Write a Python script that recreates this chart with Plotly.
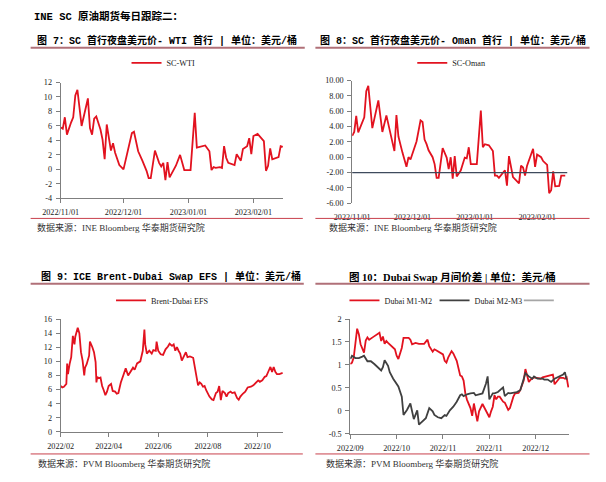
import plotly.graph_objects as go

W, H = 606, 482

# ---------------- DATA ----------------
# Fig 7: SC - WTI
wti_dates = ["2022-11-01","2022-11-02","2022-11-03","2022-11-04","2022-11-06","2022-11-07","2022-11-08","2022-11-09",
             "2022-11-11","2022-11-12","2022-11-14","2022-11-15","2022-11-16","2022-11-17","2022-11-18","2022-11-20",
             "2022-11-21","2022-11-22","2022-11-23","2022-11-25","2022-11-26","2022-11-27","2022-11-29","2022-12-01",
             "2022-12-03","2022-12-05","2022-12-06","2022-12-08","2022-12-10","2022-12-12","2022-12-13","2022-12-14",
             "2022-12-16","2022-12-18","2022-12-19","2022-12-20","2022-12-21","2022-12-22","2022-12-23","2022-12-26",
             "2022-12-28","2022-12-30","2023-01-02","2023-01-04","2023-01-05","2023-01-07","2023-01-09","2023-01-11",
             "2023-01-12","2023-01-13","2023-01-14","2023-01-16","2023-01-17","2023-01-18","2023-01-19","2023-01-20",
             "2023-01-23","2023-01-24","2023-01-26","2023-01-27","2023-01-29","2023-01-30","2023-01-31","2023-02-01",
             "2023-02-03","2023-02-06","2023-02-07","2023-02-08","2023-02-09","2023-02-10","2023-02-12","2023-02-13",
             "2023-02-14","2023-02-15"]
wti_vals = [5.8,5.6,7.2,4.8,6.5,7.2,10.2,11.0,
            6.0,7.2,9.8,5.7,4.8,7.0,7.3,5.5,
            4.1,1.4,6.2,2.6,3.6,2.3,0.6,0.0,
            2.3,5.0,5.2,2.5,1.2,-0.2,-1.2,-1.2,
            2.6,0.9,0.4,0.9,-1.5,1.0,-1.1,0.5,
            2.0,-0.1,-0.1,7.8,3.0,3.2,3.3,2.5,
            -0.1,0.3,0.2,0.3,0.2,3.2,1.6,0.9,
            0.6,2.1,1.2,2.8,3.2,4.3,2.1,4.6,
            4.9,3.9,-0.2,0.5,2.9,1.4,1.6,1.7,
            3.2,3.1]

# Fig 8: SC - Oman
oman_dates = ["2022-11-01","2022-11-02","2022-11-03","2022-11-04","2022-11-07","2022-11-08","2022-11-09","2022-11-11",
              "2022-11-14","2022-11-15","2022-11-16","2022-11-18","2022-11-20","2022-11-22","2022-11-23","2022-11-24",
              "2022-11-26","2022-11-28","2022-11-29","2022-11-30","2022-12-03","2022-12-05","2022-12-06","2022-12-07",
              "2022-12-08","2022-12-09","2022-12-11","2022-12-12","2022-12-13","2022-12-14","2022-12-16","2022-12-18",
              "2022-12-19","2022-12-20","2022-12-21","2022-12-22","2022-12-23","2022-12-25","2022-12-27","2022-12-28",
              "2022-12-29","2022-12-30","2023-01-02","2023-01-03","2023-01-04","2023-01-05","2023-01-06","2023-01-08",
              "2023-01-10","2023-01-11","2023-01-12","2023-01-13","2023-01-16","2023-01-17","2023-01-18","2023-01-20",
              "2023-01-23","2023-01-24","2023-01-25","2023-01-26","2023-01-27","2023-01-30","2023-01-31","2023-02-01",
              "2023-02-03","2023-02-04","2023-02-06","2023-02-07","2023-02-08","2023-02-09","2023-02-10","2023-02-12",
              "2023-02-13","2023-02-15"]
oman_vals = [2.8,3.3,5.4,3.25,5.2,8.6,9.3,3.8,
             7.4,5.4,3.3,5.45,3.3,0.8,5.5,2.7,
             0.6,-1.25,0.0,-0.3,2.05,4.8,4.6,2.3,
             1.7,0.9,0.0,-0.9,-2.7,-2.7,1.2,-0.05,
             -1.55,0.0,-2.8,0.15,-2.5,-1.75,-0.05,-0.15,
             1.3,-0.9,-0.9,2.4,6.1,1.3,1.7,1.55,
             0.8,-2.4,-2.4,-2.7,-1.7,-3.7,0.15,-2.6,
             -3.4,-1.1,-1.35,-2.4,-1.1,1.1,-1.25,0.35,
             0.0,-0.5,-1.0,-4.7,-4.3,-1.85,-3.8,-3.75,
             -2.4,-2.4]
oman_ref_level = -2.0

# Fig 9: Brent-Dubai EFS
efs_dates = ["2022-02-01","2022-02-03","2022-02-05","2022-02-08","2022-02-09","2022-02-10","2022-02-12","2022-02-14",
             "2022-02-16","2022-02-18","2022-02-19","2022-02-21","2022-02-22","2022-02-24","2022-02-26","2022-02-28",
             "2022-03-02","2022-03-03","2022-03-05","2022-03-08","2022-03-09","2022-03-12","2022-03-14","2022-03-16",
             "2022-03-17","2022-03-18","2022-03-20","2022-03-22","2022-03-24","2022-03-26","2022-03-28","2022-03-30",
             "2022-04-01","2022-04-04","2022-04-06","2022-04-09","2022-04-11","2022-04-13","2022-04-16","2022-04-19",
             "2022-04-22","2022-04-25","2022-04-28","2022-05-01","2022-05-03","2022-05-06","2022-05-10","2022-05-13",
             "2022-05-15","2022-05-16","2022-05-18","2022-05-21","2022-05-24","2022-05-26","2022-05-29","2022-05-30",
             "2022-06-01","2022-06-04","2022-06-07","2022-06-10","2022-06-13","2022-06-15","2022-06-18","2022-06-20",
             "2022-06-22","2022-06-24","2022-06-26","2022-06-28","2022-06-30","2022-07-02","2022-07-05","2022-07-07",
             "2022-07-10","2022-07-14","2022-07-16","2022-07-18","2022-07-20","2022-07-22","2022-07-24","2022-07-26",
             "2022-07-28","2022-07-30","2022-08-03","2022-08-06","2022-08-08","2022-08-11","2022-08-13","2022-08-15",
             "2022-08-17","2022-08-19","2022-08-22","2022-08-24","2022-08-26","2022-08-29","2022-08-31","2022-09-03",
             "2022-09-06","2022-09-08","2022-09-10","2022-09-13","2022-09-16","2022-09-19","2022-09-23","2022-09-26",
             "2022-09-29","2022-10-02","2022-10-04","2022-10-07","2022-10-10","2022-10-12","2022-10-15","2022-10-17",
             "2022-10-19","2022-10-21","2022-10-23","2022-10-25","2022-10-28","2022-10-31","2022-11-01"]
efs_vals = [6.5,6.3,6.4,6.8,9.7,8.2,9.6,10.6,
            13.6,12.4,13.5,14.5,14.75,14.0,11.3,10.1,
            8.0,9.1,9.6,10.8,12.8,12.0,11.3,9.9,
            7.0,7.8,7.6,7.7,6.5,5.9,5.2,5.7,
            6.5,6.8,5.8,5.7,5.4,5.5,7.0,8.0,
            9.0,8.0,8.6,9.1,8.8,9.7,10.0,11.5,
            14.5,12.4,11.1,11.5,11.1,11.6,11.5,12.8,
            11.5,11.0,10.9,11.7,12.1,12.5,12.2,12.4,
            11.5,12.0,11.5,11.1,10.1,10.6,11.3,10.6,
            10.7,10.5,9.0,7.8,6.6,7.0,6.8,6.4,
            6.5,5.9,5.0,4.6,4.5,5.5,5.7,6.5,
            4.5,5.8,5.5,5.0,5.5,5.7,5.5,5.6,
            4.8,4.55,5.0,5.4,5.7,6.3,6.4,6.6,
            7.0,7.3,7.1,7.3,7.8,7.9,8.7,9.2,
            8.5,9.2,8.5,8.2,8.2,8.35,8.35]

# Fig 10: Dubai Swap spreads
m12_dates = ["2022-09-09","2022-09-10","2022-09-11","2022-09-13","2022-09-14","2022-09-15","2022-09-17","2022-09-18",
             "2022-09-19","2022-09-20","2022-09-22","2022-09-24","2022-09-26","2022-09-27","2022-09-28","2022-09-29",
             "2022-09-30","2022-10-01","2022-10-03","2022-10-05","2022-10-06","2022-10-07","2022-10-09","2022-10-10",
             "2022-10-13","2022-10-14","2022-10-15","2022-10-17","2022-10-19","2022-10-22","2022-10-24","2022-10-25",
             "2022-10-27","2022-10-28","2022-10-29","2022-10-31","2022-11-02","2022-11-03","2022-11-04","2022-11-05",
             "2022-11-07","2022-11-08","2022-11-09","2022-11-10","2022-11-12","2022-11-13","2022-11-14","2022-11-15",
             "2022-11-16","2022-11-18","2022-11-19","2022-11-20","2022-11-22","2022-11-23","2022-11-25","2022-11-27",
             "2022-11-29","2022-11-30","2022-12-01","2022-12-02","2022-12-03","2022-12-04","2022-12-05","2022-12-07",
             "2022-12-08","2022-12-10","2022-12-11","2022-12-13","2022-12-14","2022-12-16","2022-12-17","2022-12-19",
             "2022-12-20","2022-12-22","2022-12-23","2022-12-25","2022-12-27","2022-12-29","2022-12-30","2023-01-01",
             "2023-01-03","2023-01-05","2023-01-06","2023-01-08","2023-01-09","2023-01-11","2023-01-12","2023-01-13",
             "2023-01-14"]
m12_vals = [1.02,1.05,1.16,1.79,1.67,1.45,1.27,1.53,
            1.60,1.55,1.60,1.65,1.70,1.52,1.62,1.46,
            1.52,1.48,1.41,1.34,1.20,1.13,1.37,1.59,
            1.59,1.55,1.45,1.48,1.46,1.46,1.55,1.41,
            1.29,1.34,1.32,1.27,1.23,1.09,1.05,1.16,
            1.30,1.25,1.16,1.09,0.77,0.75,0.66,0.38,
            0.24,0.06,-0.11,0.16,-0.23,-0.01,0.15,0.02,
            -0.14,-0.01,0.09,0.34,0.25,0.31,0.31,0.20,
            0.18,0.02,0.06,0.31,0.38,0.39,0.45,0.66,
            0.91,0.63,0.68,0.73,0.72,0.70,0.73,0.75,
            0.77,0.79,0.58,0.68,0.72,0.72,0.70,0.73,
            0.51]

m23_dates = ["2022-09-09","2022-09-10","2022-09-12","2022-09-14","2022-09-16","2022-09-17","2022-09-19","2022-09-21",
             "2022-09-23","2022-09-25","2022-09-27","2022-09-28","2022-09-29","2022-10-01","2022-10-02","2022-10-04",
             "2022-10-06","2022-10-07","2022-10-09","2022-10-10","2022-10-12","2022-10-13","2022-10-14","2022-10-16",
             "2022-10-17","2022-10-18","2022-10-19","2022-10-21","2022-10-23","2022-10-25","2022-10-27","2022-10-28",
             "2022-10-30","2022-11-01","2022-11-03","2022-11-04","2022-11-06","2022-11-08","2022-11-10","2022-11-12",
             "2022-11-13","2022-11-14","2022-11-16","2022-11-18","2022-11-20","2022-11-21","2022-11-23","2022-11-25",
             "2022-11-27","2022-11-28","2022-11-29","2022-12-01","2022-12-02","2022-12-04","2022-12-06","2022-12-07",
             "2022-12-08","2022-12-10","2022-12-11","2022-12-13","2022-12-15","2022-12-17","2022-12-18","2022-12-20",
             "2022-12-22","2022-12-24","2022-12-25","2022-12-27","2022-12-30","2022-12-31","2023-01-02","2023-01-04",
             "2023-01-06","2023-01-08","2023-01-09","2023-01-11","2023-01-12","2023-01-13"]
m23_vals = [1.13,1.20,1.15,1.15,1.18,1.20,1.08,1.08,
            1.02,0.95,0.88,0.95,1.10,0.98,0.84,0.70,
            0.58,0.53,0.31,-0.09,0.02,0.09,0.16,-0.18,
            -0.09,0.01,-0.30,-0.23,-0.16,0.06,-0.01,-0.09,
            -0.14,-0.16,-0.09,-0.11,0.01,0.09,0.20,0.34,
            0.36,0.32,0.36,0.38,0.39,0.34,0.36,0.38,
            0.59,0.75,0.25,0.38,0.38,0.41,0.48,0.51,
            0.32,0.39,0.38,0.39,0.41,0.45,0.58,0.82,
            0.75,0.70,0.75,0.70,0.70,0.68,0.68,0.63,
            0.70,0.73,0.75,0.79,0.84,0.68]

# tick labels
p1_yticks = [-4, -2, 0, 2, 4, 6, 8, 10, 12]
p1_ytext = ["-4", "-2", "0", "2", "4", "6", "8", "10", "12"]
p1_xticks = ["2022-11-01", "2022-12-01", "2023-01-01", "2023-02-01"]
p2_yticks = [-6, -4, -2, 0, 2, 4, 6, 8, 10]
p2_ytext = ["-6.00", "-4.00", "-2.00", "0.00", "2.00", "4.00", "6.00", "8.00", "10.00"]
p2_xticks = ["2022-11-01", "2022-12-01", "2023-01-01", "2023-02-01"]
p3_yticks = [0, 2, 4, 6, 8, 10, 12, 14, 16]
p3_ytext = ["0", "2", "4", "6", "8", "10", "12", "14", "16"]
p3_xticks = ["2022-02-01", "2022-04-01", "2022-06-01", "2022-08-01", "2022-10-01"]
p4_yticks = [-0.5, 0, 0.5, 1, 1.5, 2]
p4_ytext = ["-0.5", "0", "0.5", "1", "1.5", "2"]
p4_xticks = ["2022-09-09", "2022-10-06", "2022-11-02", "2022-11-29", "2022-12-26"]

# ---------------- STYLE ----------------
RED = "#E2121F"
DARK = "#404040"
GRAY = "#A6A6A6"
AX = "#7F7F7F"
SERIF = "Liberation Serif, Times New Roman, Noto Sans CJK SC"
TITLE = "Liberation Mono, Noto Sans CJK SC"
TITLE4 = "Liberation Serif, Noto Sans CJK SC"


def xdom(a, b):
    return [a / W, b / W]


def ydom(top, bottom):
    return [1 - bottom / H, 1 - top / H]


fig = go.Figure()

fig.add_trace(go.Scatter(x=wti_dates, y=wti_vals, mode="lines", name="SC-WTI",
                         line=dict(color=RED, width=1.8), xaxis="x", yaxis="y", legend="legend"))
fig.add_trace(go.Scatter(x=oman_dates, y=oman_vals, mode="lines", name="SC-Oman",
                         line=dict(color=RED, width=1.8), xaxis="x2", yaxis="y2", legend="legend2"))
fig.add_trace(go.Scatter(x=efs_dates, y=efs_vals, mode="lines", name="Brent-Dubai EFS",
                         line=dict(color=RED, width=1.8), xaxis="x3", yaxis="y3", legend="legend3"))
fig.add_trace(go.Scatter(x=m12_dates, y=m12_vals, mode="lines", name="Dubai M1-M2",
                         line=dict(color=RED, width=1.8), xaxis="x4", yaxis="y4", legend="legend4"))
fig.add_trace(go.Scatter(x=m23_dates, y=m23_vals, mode="lines", name="Dubai M2-M3",
                         line=dict(color=DARK, width=1.8), xaxis="x4", yaxis="y4", legend="legend5"))
fig.add_trace(go.Scatter(x=[None], y=[None], mode="lines", name=" ",
                         line=dict(color=GRAY, width=1.8), xaxis="x4", yaxis="y4", legend="legend6"))

tickfont = dict(family=SERIF, size=8.2, color="#222")


def xax(domain, anchor, rng, tickvals, fmt, showline=True):
    return dict(domain=domain, anchor=anchor, type="date", range=rng, tickvals=tickvals,
                tickformat=fmt, showgrid=False, zeroline=False, showline=showline,
                linecolor=AX, linewidth=1, ticks="outside",
                ticklen=4, tickcolor=AX if showline else "rgba(0,0,0,0)",
                tickfont=tickfont, ticklabelstandoff=2)


def yax(domain, anchor, rng, tickvals, ticktext):
    return dict(domain=domain, anchor=anchor, range=rng, tickvals=tickvals, ticktext=ticktext,
                showgrid=False, zeroline=False, showline=True, linecolor=AX, linewidth=1,
                ticks="outside", ticklen=4, tickcolor=AX, tickfont=tickfont, ticklabelstandoff=2)


def leg(xpx, ypx):
    return dict(x=xpx / W, y=1 - ypx / H, xanchor="left", yanchor="middle", orientation="h",
                font=dict(family=SERIF, size=8.2, color="#222"), bgcolor="rgba(0,0,0,0)")


fig.update_layout(
    width=W, height=H, autosize=False,
    margin=dict(l=0, r=0, t=0, b=0),
    paper_bgcolor="white", plot_bgcolor="white",
    xaxis=xax(xdom(43, 273), "y", ["2022-11-01", "2023-02-15 08:00"], p1_xticks, "%Y/%m/%d"),
    yaxis=yax(ydom(80, 198), "x", [-4, 12], p1_yticks, p1_ytext),
    xaxis2=xax(xdom(344, 566), "y2", ["2022-11-01", "2023-02-16"], p2_xticks, "%Y/%m/%d", showline=False),
    yaxis2=yax(ydom(78, 203), "x2", [-6, 10], p2_yticks, p2_ytext),
    xaxis3=xax(xdom(43, 273), "y3", ["2022-02-01", "2022-11-02"], p3_xticks, "%Y/%m"),
    yaxis3=yax(ydom(321, 436), "x3", [0, 16], p3_yticks, p3_ytext),
    xaxis4=xax(xdom(342, 568), "y4", ["2022-09-09", "2023-01-14 12:00"], p4_xticks, "%Y/%m"),
    yaxis4=yax(ydom(321, 438), "x4", [-0.5, 2], p4_yticks, p4_ytext),
    legend=leg(111, 60),
    legend2=leg(406, 60),
    legend3=leg(95, 302),
    legend4=leg(336, 302),
    legend5=leg(429, 302),
    legend6=leg(516, 302),
    showlegend=True,
)

# horizontal reference line on SC-Oman chart
fig.add_shape(type="line", xref="x2 domain", yref="y2", x0=0, x1=1, y0=oman_ref_level, y1=oman_ref_level,
              line=dict(color="#3E4A5C", width=1.3))

# title underlines and bottom separators
UL = "#B07078"
SEP = "#C8404C"
for (x0, x1, y) in [(12, 295, 44.5), (306, 589, 44.5), (12, 294, 285), (306, 589, 285)]:
    fig.add_shape(type="line", xref="paper", yref="paper", x0=x0 / W, x1=x1 / W, y0=1 - y / H, y1=1 - y / H,
                  line=dict(color=UL, width=2))
for (x0, x1, y) in [(12, 293, 218.5), (306, 589, 218.5), (12, 293, 458.5), (306, 589, 458.5)]:
    fig.add_shape(type="line", xref="paper", yref="paper", x0=x0 / W, x1=x1 / W, y0=1 - y / H, y1=1 - y / H,
                  line=dict(color=SEP, width=1))


# texts
def text(s, x, y, size, family, bold=False, xanchor="left", color="#000"):
    fig.add_annotation(text=("<b>%s</b>" % s) if bold else s, x=x / W, y=1 - y / H, xref="paper", yref="paper",
                       showarrow=False, xanchor=xanchor, yanchor="middle",
                       align=xanchor if xanchor != "center" else "center",
                       font=dict(size=size, family=family, color=color))


text("INE SC 原油期货每日跟踪二：", 13, 13, 10.5, TITLE, bold=True)
text("图 7：SC 首行夜盘美元价- WTI 首行 | 单位：美元/桶", 153, 37, 10, TITLE, bold=True, xanchor="center")
text("图 8：SC 首行夜盘美元价- Oman 首行 | 单位：美元/桶", 448, 37, 10, TITLE, bold=True, xanchor="center")
text("图 9：ICE Brent-Dubai Swap EFS | 单位：美元/桶", 157, 278, 10, TITLE, bold=True, xanchor="center")
text("图 10：Dubai Swap 月间价差 | 单位：美元/桶", 448, 278, 10.5, TITLE4, bold=True, xanchor="center")
text("数据来源：INE Bloomberg 华泰期货研究院", 17, 228, 9, SERIF, color="#333")
text("数据来源：INE Bloomberg 华泰期货研究院", 318, 228, 9, SERIF, color="#333")
text("数据来源：PVM Bloomberg 华泰期货研究院", 18, 468, 9, SERIF, color="#333")
text("数据来源：PVM Bloomberg 华泰期货研究院", 315, 468, 9, SERIF, color="#333")

fig.write_html("out.html")
